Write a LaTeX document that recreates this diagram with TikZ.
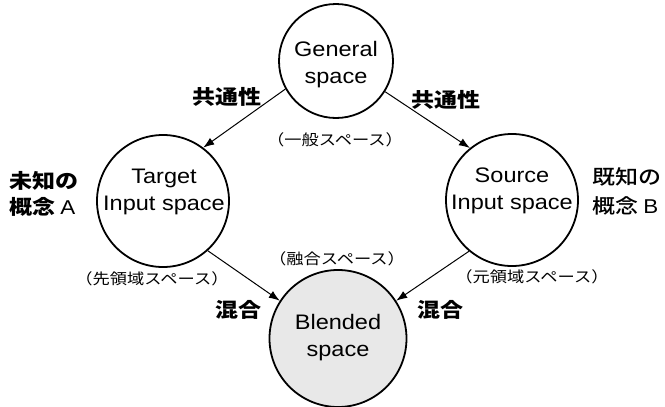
\documentclass[tikz,border=0pt]{standalone}
\usepackage{fontspec}
\setmainfont[FakeStretch=1.12]{Liberation Sans}
\newfontfamily\jp[FakeStretch=1.15]{Noto Sans CJK JP}
\newfontfamily\jpm[FakeStretch=1.15]{Noto Sans CJK JP Medium}
\newfontfamily\lat[FakeStretch=1.12]{Liberation Sans}
\usetikzlibrary{arrows.meta}
\begin{document}
\begin{tikzpicture}[x=1pt,y=-1pt,
  spc/.style={circle,draw,line width=1.8pt,inner sep=0pt},
  ctxt/.style={align=center,inner sep=0pt,font=\fontsize{21}{27}\selectfont},
  jlab/.style={font=\jp\bfseries\fontsize{20}{25.5}\selectfont,inner sep=0pt},
  mlab/.style={font=\jpm\fontsize{20}{29}\selectfont,inner sep=0pt},
  plab/.style={font=\jp\fontsize{15}{18}\selectfont,inner sep=0pt},
  arr/.style={-{Latex[length=11pt,width=8pt]},line width=1pt}]
\useasboundingbox (0,0) rectangle (665,407);
\node[spc,minimum size=114pt] (g) at (336,61) {};
\node[spc,minimum size=132pt] (t) at (163,201) {};
\node[spc,minimum size=132pt] (s) at (512,200) {};
\node[spc,minimum size=137pt,fill=black!9] (b) at (338,338.5) {};
\node[ctxt] (gt) at (336,65) {General\\space};
\node[ctxt] (tt) at (164,192) {Target\\Input space};
\node[ctxt] (st) at (512,191) {Source\\Input space};
\node[ctxt] (bt) at (338,338) {Blended\\space};
\draw[arr] (g.209) -- (t.53);
\draw[arr] (g.328) -- (s.129);
\draw[arr] (t.312) -- (b.147);
\draw[arr] (s.230) -- (b.33);
\node[jlab] (c1) at (227,97) {共通性};
\node[jlab] (c2) at (446,100) {共通性};
\node[jlab,anchor=west,align=left] (ua) at (9,194) {未知の\\概念 {\lat\mdseries A}};
\node[mlab,anchor=west,align=left] (kb) at (592,191) {既知の\\概念 {\lat B}};
\node[jlab] (m1) at (238,310) {混合};
\node[jlab] (m2) at (440,310) {混合};
\node[plab] (p1) at (335,140) {（一般スペース）};
\node[plab] (p2) at (152,279) {（先領域スペース）};
\node[plab] (p3) at (532,277) {（元領域スペース）};
\node[plab] (p4) at (337,259) {（融合スペース）};
\end{tikzpicture}
\end{document}
